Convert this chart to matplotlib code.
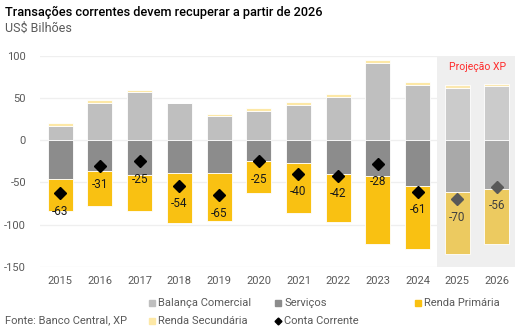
import numpy as np
import matplotlib.pyplot as plt
from matplotlib.lines import Line2D

plt.rcParams['font.family'] = ['Roboto', 'DejaVu Sans']
plt.rcParams['axes.unicode_minus'] = False

years = ['2015', '2016', '2017', '2018', '2019', '2020',
         '2021', '2022', '2023', '2024', '2025', '2026']
balanca = [17, 44, 57, 44, 29, 35, 42, 51, 91.5, 65.5, 62, 64]
servicos = [-46, -37, -41, -39, -39, -25, -27, -40, -43, -54, -61.5, -58]
renda_prim = [-38, -41, -43, -59, -57, -38, -59, -57, -80, -75, -73, -65]
renda_sec = [3, 3, 2.5, 0.4, 2, 2.5, 3, 4, 3, 3, 3, 2.5]
conta_corrente = [-63, -31, -25, -54, -65, -25, -40, -42, -28, -61, -70, -56]
n_proj = 2  # last two years are projections

grey_txt = '#595959'

fig = plt.figure(figsize=(5.31, 3.33), dpi=100)
ax = fig.add_axes([0.0753, 0.199, 0.895, 0.634])

x = np.arange(len(years))
proj = x >= len(years) - n_proj

c_bal = np.where(proj, '#cbcbcb', '#bfbfbf')
c_serv = np.where(proj, '#a9a9a9', '#8c8c8c')
c_prim = np.where(proj, '#ecca60', '#f9c112')
c_sec = np.where(proj, '#fbe8b0', '#fde8a6')

w = 0.63
kw = dict(width=w, edgecolor='white', linewidth=0.6, zorder=2)
ax.bar(x, balanca, color=c_bal, **kw)
ax.bar(x, renda_sec, bottom=balanca, color=c_sec, **kw)
ax.bar(x, servicos, color=c_serv, **kw)
ax.bar(x, renda_prim, bottom=servicos, color=c_prim, **kw)

# projection band
ax.axvspan(len(years) - n_proj - 0.5, len(years) - 0.5 + 0.05,
           color='#efefef', zorder=0, lw=0)
ax.text(len(years) - n_proj + 0.5, 86, 'Projeção XP', color='#ff2a2a',
        ha='center', va='center', fontsize=7.5, zorder=3)

for i, v in enumerate(conta_corrente):
    col = grey_txt if proj[i] else 'black'
    ax.plot(x[i], v, marker='D', markersize=6, color=col,
            linestyle='none', zorder=4)
    ax.annotate(f'{v:.0f}', (x[i], v), xytext=(0, -13),
                textcoords='offset points', ha='center', va='center',
                fontsize=8.5, color='#404040' if proj[i] else '#1a1a1a',
                zorder=5)

ax.set_ylim(-150, 100)
ax.set_xlim(-0.51, len(years) - 0.54)
ax.set_yticks([100, 50, 0, -50, -100, -150])
ax.set_xticks(x)
ax.set_xticklabels(years)
ax.tick_params(axis='both', length=0, labelsize=8, labelcolor=grey_txt)
ax.tick_params(axis='y', pad=10)
ax.tick_params(axis='x', pad=7)
ax.grid(axis='y', color='#efefef', linewidth=0.9, zorder=0)
ax.set_axisbelow(True)
for s in ax.spines.values():
    s.set_visible(False)

fig.text(0.009, 0.963, 'Transações correntes devem recuperar a partir de 2026',
         fontsize=9.2, fontweight='medium', color='black', va='center')
fig.text(0.009, 0.915, 'US$ Bilhões', fontsize=9, color=grey_txt, va='center')

# legend
leg_items = [
    (0.286, 0.090, 's', '#bfbfbf', 'Balança Comercial'),
    (0.523, 0.090, 's', '#8c8c8c', 'Serviços'),
    (0.787, 0.090, 's', '#f9c112', 'Renda Primária'),
    (0.286, 0.037, 's', '#fde8a6', 'Renda Secundária'),
    (0.523, 0.037, 'D', 'black', 'Conta Corrente'),
]
for lx, ly, m, c, lab in leg_items:
    fig.add_artist(Line2D([lx], [ly], marker=m, color=c, linestyle='none',
                          markersize=5 if m == 's' else 3.5,
                          transform=fig.transFigure))
    fig.text(lx + 0.012, ly, lab, fontsize=8, color=grey_txt, va='center')
fig.text(0.009, 0.037, 'Fonte: Banco Central, XP', fontsize=8,
         color=grey_txt, va='center')

fig.savefig('out.png', dpi=100)
